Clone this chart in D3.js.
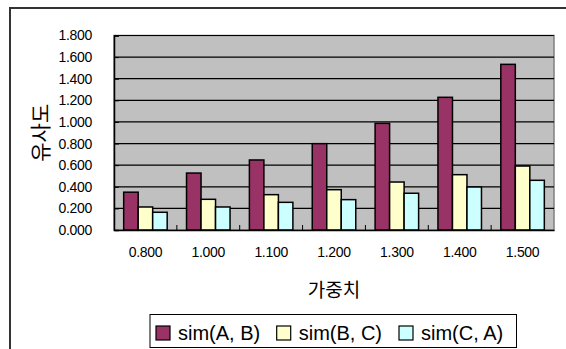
<!DOCTYPE html>
<html><head><meta charset="utf-8">
<script src="https://cdn.jsdelivr.net/npm/d3@7"></script>
<style>body{margin:0;background:#fff}svg{display:block}</style>
</head><body>
<script>
const categories = ["0.800","1.000","1.100","1.200","1.300","1.400","1.500"];
const seriesNames = ["sim(A, B)","sim(B, C)","sim(C, A)"];
const simAB = [0.350,0.527,0.648,0.799,0.987,1.228,1.533];
const simBC = [0.213,0.284,0.327,0.373,0.444,0.512,0.592];
const simCA = [0.164,0.213,0.256,0.281,0.340,0.398,0.460];
const yTicks = [0,0.2,0.4,0.6,0.8,1.0,1.2,1.4,1.6,1.8];
const colors = ["#993366","#FFFFCC","#CCFFFF"];
const xTitle = "가중치", yTitle = "유사도";

const W=566,H=349;
const svg=d3.select("body").append("svg").attr("width",W).attr("height",H);
const font="'Liberation Sans', Arial, sans-serif";
const kfont="'Noto Sans CJK KR', sans-serif";

// outer border
svg.append("rect").attr("x",10).attr("y",8).attr("width",580).attr("height",360)
  .attr("fill","#fff").attr("stroke","#333").attr("stroke-width",2);

const L=114,T=35.5,R=554,B=230;
const x=d3.scaleBand().domain(categories).range([L,R]).paddingInner(0).paddingOuter(0);
const y=d3.scaleLinear().domain([0,1.8]).range([B,T]);
const xs=d3.scaleBand().domain(d3.range(3)).range([0,x.bandwidth()]).paddingInner(0).paddingOuter(0.667);

svg.append("rect").attr("x",L).attr("y",T).attr("width",R-L).attr("height",B-T)
  .attr("fill","#C0C0C0").attr("stroke","#808080").attr("stroke-width",1.5);

// gridlines
svg.append("g").selectAll("line").data(yTicks.slice(1)).join("line")
  .attr("x1",L).attr("x2",R).attr("y1",d=>y(d)).attr("y2",d=>y(d))
  .attr("stroke","#000").attr("stroke-width",1.2);

// bars
const data=[simAB,simBC,simCA];
const g=svg.append("g");
categories.forEach((c,i)=>{
  data.forEach((s,j)=>{
    g.append("rect").attr("x",x(c)+xs(j)).attr("y",y(s[i]))
     .attr("width",xs.bandwidth()).attr("height",B-y(s[i]))
     .attr("fill",colors[j]).attr("stroke","#000").attr("stroke-width",1.5);
  });
});

// axes
const yAxis=d3.axisLeft(y).tickValues(yTicks).tickFormat(d3.format(".3f")).tickSize(-5).tickPadding(22);
const ya=svg.append("g").attr("transform",`translate(${L},0)`).call(yAxis);
ya.select(".domain").attr("stroke","#000").attr("stroke-width",1.5);
ya.selectAll(".tick line").attr("stroke","#000");
ya.selectAll("text").attr("font-family",font).attr("font-size",14).attr("fill","#000").attr("letter-spacing","-0.3px");

const xAxis=d3.axisBottom(x).tickSize(0).tickPadding(17);
const xa=svg.append("g").attr("transform",`translate(0,${B})`).call(xAxis);
xa.select(".domain").attr("stroke","#000").attr("stroke-width",1.5);
xa.selectAll("text").attr("font-family",font).attr("font-size",14).attr("fill","#000").attr("letter-spacing","-0.3px");
// boundary tick marks
svg.append("g").selectAll("line").data(categories.slice(1)).join("line")
  .attr("x1",d=>x(d)).attr("x2",d=>x(d)).attr("y1",B).attr("y2",B-5)
  .attr("stroke","#000").attr("stroke-width",1);

// titles
svg.append("text").attr("x",(L+R)/2).attr("y",288).attr("text-anchor","middle")
  .attr("dominant-baseline","central").attr("font-family",kfont).attr("font-size",19).text(xTitle);
svg.append("text").attr("transform",`translate(39,${(T+B)/2}) rotate(-90)`).attr("text-anchor","middle")
  .attr("dominant-baseline","central").attr("font-family",kfont).attr("font-size",21).text(yTitle);

// legend
const lg=svg.append("g");
lg.append("rect").attr("x",150).attr("y",314.5).attr("width",366.5).attr("height",33)
  .attr("fill","#fff").attr("stroke","#000").attr("stroke-width",1);
const lx=[156,276.7,399];
seriesNames.forEach((n,j)=>{
  lg.append("rect").attr("x",lx[j]).attr("y",326).attr("width",14).attr("height",14)
    .attr("fill",colors[j]).attr("stroke","#000").attr("stroke-width",1.2);
  lg.append("text").attr("x",lx[j]+22).attr("y",333).attr("dominant-baseline","central")
    .attr("font-family",font).attr("font-size",20).text(n);
});
</script>
</body></html>
